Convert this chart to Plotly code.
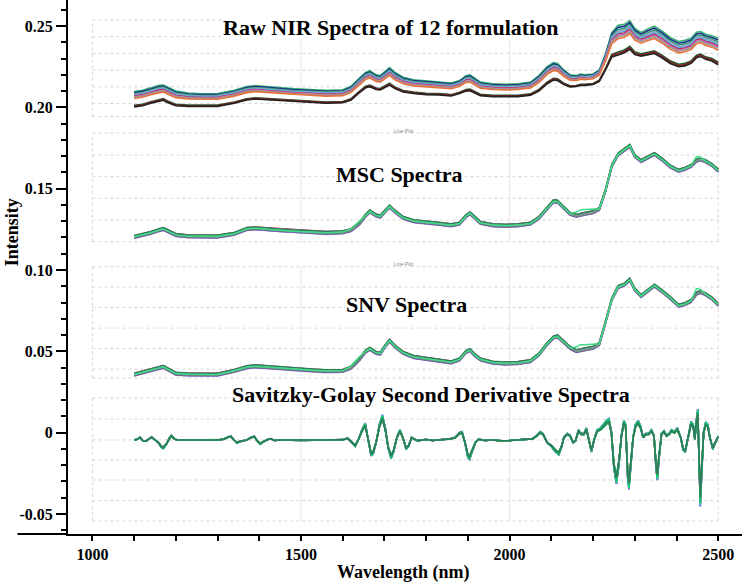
import plotly.graph_objects as go

# ---------------- data ----------------
wavelength = [1100, 1120, 1140, 1160, 1170, 1180, 1200, 1230, 1260, 1300, 1340, 1370, 1390, 1410,
              1440, 1480, 1520, 1560, 1600, 1620, 1640, 1655, 1665, 1680, 1690, 1700, 1712, 1725,
              1745, 1770, 1800, 1830, 1860, 1880, 1895, 1905, 1915, 1930, 1960, 1990, 2020, 2050,
              2070, 2090, 2105, 2115, 2130, 2145, 2160, 2170, 2180, 2200, 2215, 2230, 2245, 2260,
              2275, 2288, 2300, 2315, 2330, 2347, 2365, 2385, 2405, 2420, 2435, 2448, 2458, 2470,
              2485, 2500]

raw_upper = [0.2097, 0.2105, 0.2120, 0.2135, 0.2137, 0.2125, 0.2100, 0.2088, 0.2084, 0.2085, 0.2105,
             0.2128, 0.2134, 0.2130, 0.2122, 0.2115, 0.2110, 0.2105, 0.2108, 0.2130, 0.2180, 0.2215,
             0.2225, 0.2200, 0.2195, 0.2220, 0.2245, 0.2215, 0.2185, 0.2170, 0.2163, 0.2158, 0.2150,
             0.2165, 0.2195, 0.2200, 0.2180, 0.2155, 0.2145, 0.2142, 0.2145, 0.2155, 0.2195, 0.2250,
             0.2275, 0.2270, 0.2230, 0.2200, 0.2195, 0.2205, 0.2200, 0.2205, 0.2230, 0.2330, 0.2460,
             0.2505, 0.2510, 0.2533, 0.2485, 0.2460, 0.2480, 0.2499, 0.2470, 0.2430, 0.2405, 0.2412,
             0.2425, 0.2462, 0.2466, 0.2450, 0.2440, 0.2425]

raw_lower = [0.2003, 0.2010, 0.2025, 0.2040, 0.2044, 0.2030, 0.2010, 0.2006, 0.2005, 0.2006, 0.2025,
             0.2045, 0.2051, 0.2048, 0.2040, 0.2035, 0.2030, 0.2025, 0.2028, 0.2045, 0.2090, 0.2120,
             0.2127, 0.2110, 0.2107, 0.2120, 0.2137, 0.2115, 0.2095, 0.2085, 0.2078, 0.2076, 0.2070,
             0.2085, 0.2100, 0.2102, 0.2090, 0.2072, 0.2066, 0.2064, 0.2066, 0.2075, 0.2100, 0.2145,
             0.2168, 0.2165, 0.2140, 0.2125, 0.2128, 0.2135, 0.2135, 0.2140, 0.2160, 0.2230, 0.2310,
             0.2322, 0.2335, 0.2357, 0.2325, 0.2315, 0.2322, 0.2331, 0.2305, 0.2270, 0.2250, 0.2255,
             0.2270, 0.2305, 0.2312, 0.2295, 0.2285, 0.2261]

msc_mean = [0.1203, 0.1215, 0.1228, 0.1245, 0.1252, 0.1240, 0.1215, 0.1207, 0.1205, 0.1206, 0.1222,
            0.1252, 0.1256, 0.1253, 0.1245, 0.1238, 0.1232, 0.1228, 0.1232, 0.1245, 0.1285, 0.1335,
            0.1360, 0.1335, 0.1328, 0.1355, 0.1390, 0.1360, 0.1320, 0.1300, 0.1290, 0.1284, 0.1275,
            0.1285, 0.1330, 0.1348, 0.1325, 0.1290, 0.1275, 0.1272, 0.1275, 0.1285, 0.1320, 0.1380,
            0.1422, 0.1420, 0.1380, 0.1345, 0.1333, 0.1340, 0.1345, 0.1355, 0.1375, 0.1490, 0.1640,
            0.1710, 0.1738, 0.1763, 0.1700, 0.1670, 0.1690, 0.1713, 0.1680, 0.1636, 0.1610, 0.1622,
            0.1640, 0.1672, 0.1680, 0.1668, 0.1645, 0.1611]

snv_mean = [0.0357, 0.0370, 0.0383, 0.0400, 0.0404, 0.0390, 0.0362, 0.0358, 0.0357, 0.0357, 0.0380,
            0.0402, 0.0408, 0.0404, 0.0396, 0.0390, 0.0384, 0.0378, 0.0380, 0.0400, 0.0450, 0.0500,
            0.0515, 0.0490, 0.0486, 0.0525, 0.0566, 0.0530, 0.0490, 0.0465, 0.0453, 0.0445, 0.0432,
            0.0450, 0.0495, 0.0507, 0.0480, 0.0450, 0.0430, 0.0425, 0.0428, 0.0440, 0.0480, 0.0545,
            0.0585, 0.0592, 0.0555, 0.0521, 0.0501, 0.0508, 0.0512, 0.0522, 0.0545, 0.0680, 0.0820,
            0.0895, 0.0910, 0.0940, 0.0880, 0.0840, 0.0870, 0.0904, 0.0870, 0.0828, 0.0780, 0.0790,
            0.0810, 0.0855, 0.0865, 0.0850, 0.0825, 0.0787]

# extra deviation of the bright-green formulation (F12) in the pre-processed spectra
f12_msc_extra = {1620: 0.0008, 1640: 0.0014, 2160: 0.0022, 2170: 0.0030, 2180: 0.0026,
                 2200: 0.0018, 2448: 0.0025, 2458: 0.0012}
f12_snv_extra = {1620: 0.0010, 1640: 0.0016, 2160: 0.0025, 2170: 0.0032, 2180: 0.0028,
                 2200: 0.0020, 2448: 0.0030, 2458: 0.0015}

sg_wavelength = [1100, 1108, 1114, 1121, 1128, 1135, 1142, 1150, 1158, 1165, 1170, 1177, 1184, 1189,
                 1195, 1202, 1250, 1300, 1315, 1325, 1332, 1340, 1346, 1352, 1360, 1370, 1380, 1388,
                 1395, 1402, 1410, 1420, 1428, 1436, 1450, 1500, 1560, 1600, 1612, 1622, 1630, 1638,
                 1646, 1654, 1661, 1668, 1673, 1680, 1688, 1695, 1702, 1709, 1716, 1722, 1730, 1737,
                 1744, 1752, 1758, 1765, 1772, 1780, 1790, 1800, 1815, 1830, 1845, 1858, 1870, 1880,
                 1886, 1893, 1900, 1904, 1910, 1918, 1926, 1940, 1960, 1980, 2000, 2020, 2040, 2055,
                 2065, 2073, 2080, 2090, 2100, 2110, 2118, 2125, 2130, 2138, 2145, 2152, 2158, 2165,
                 2172, 2178, 2184, 2190, 2196, 2203, 2210, 2218, 2225, 2232, 2238, 2244, 2250, 2256,
                 2262, 2268, 2274, 2278, 2283, 2286, 2290, 2296, 2302, 2308, 2314, 2320, 2326, 2333,
                 2340, 2346, 2351, 2354, 2358, 2364, 2370, 2376, 2382, 2388, 2395, 2402, 2410, 2416,
                 2421, 2428, 2435, 2440, 2444, 2447, 2451, 2454, 2457, 2461, 2465, 2470, 2475, 2480,
                 2487, 2493, 2500]

sg_mean = [-0.0045, -0.0040, -0.0030, -0.0050, -0.0052, -0.0038, -0.0028, -0.0045, -0.0060, -0.0085,
           -0.0092, -0.0070, -0.0035, -0.0020, -0.0035, -0.0045, -0.0045, -0.0045, -0.0040, -0.0028,
           -0.0025, -0.0050, -0.0062, -0.0055, -0.0050, -0.0045, -0.0030, -0.0025, -0.0050, -0.0068,
           -0.0055, -0.0042, -0.0038, -0.0048, -0.0045, -0.0047, -0.0045, -0.0043, -0.0035, -0.0060,
           -0.0080, -0.0040, 0.0010, 0.0045, -0.0040, -0.0130, -0.0120, -0.0060, 0.0040, 0.0090,
           0.0020, -0.0090, -0.0145, -0.0110, -0.0030, 0.0010, -0.0030, -0.0095, -0.0080, -0.0030,
           -0.0040, -0.0050, -0.0045, -0.0042, -0.0048, -0.0045, -0.0040, -0.0038, -0.0030, -0.0005,
           0.0000, -0.0060, -0.0140, -0.0150, -0.0110, -0.0060, -0.0040, -0.0048, -0.0045, -0.0050,
           -0.0048, -0.0045, -0.0042, -0.0038, -0.0020, 0.0000, -0.0010, -0.0060, -0.0080, -0.0110,
           -0.0125, -0.0080, -0.0030, -0.0010, -0.0020, -0.0060, -0.0050, 0.0010, -0.0010, -0.0010,
           0.0020, -0.0040, -0.0110, -0.0040, 0.0010, 0.0020, 0.0040, 0.0060, 0.0070, 0.0000,
           -0.0200, -0.0280, -0.0180, -0.0020, 0.0060, 0.0040, -0.0250, -0.0310, -0.0200, -0.0030,
           0.0040, 0.0060, 0.0030, -0.0030, -0.0010, -0.0010, 0.0010, -0.0020, -0.0200, -0.0260,
           -0.0150, -0.0010, 0.0005, -0.0020, -0.0010, 0.0010, 0.0000, 0.0020, -0.0030, -0.0100,
           -0.0110, -0.0020, 0.0055, 0.0040, -0.0040, 0.0050, 0.0120, -0.0150, -0.0400, -0.0200,
           0.0000, 0.0050, 0.0040, -0.0030, -0.0095, -0.0060, -0.0025]
sg_baseline = -0.0045

formulations = [f"F{i}" for i in range(1, 13)]
raw_position = [1.0, 0.93, 0.86, 0.80, 0.75, 0.70, 0.66, 0.62, 0.55, 0.10, 0.05, 0.0]
msc_offset = [0.0008, -0.0006, 0.0004, -0.0009, 0.0000, 0.0006, -0.0003, -0.0007, 0.0002, 0.0009, -0.0004, 0.0001]
snv_offset = [0.0008, -0.0006, 0.0004, -0.0009, 0.0000, 0.0006, -0.0003, -0.0007, 0.0002, 0.0009, -0.0004, 0.0001]
sg_gain = [1.15, 1.12, 1.13, 1.08, 1.04, 1.00, 0.97, 0.95, 1.10, 0.93, 0.96, 1.00]

raw_colors = ['#3cb371', '#1c2f8f', '#2e9e6e', '#9a9ad0', '#4fb6d6', '#c2185b',
              '#d070b0', '#999999', '#e8733a', '#1f5f3a', '#8b1a1a', '#222222']
proc_colors = ['#c2185b', '#3b2db5', '#4fb6d6', '#9a9ad0', '#999999', '#d070b0',
               '#555555', '#7b3fb0', '#b0b0b0', '#2e7d5b', '#6a8f80', '#3ddc84']
sg_colors = ['#3b2db5', '#b0206a', '#4fc3f7', '#7b3fb0', '#b0a0c0', '#888888',
             '#c0c0c0', '#2b2b2b', '#00e060', '#55cc88', '#20a060', '#2e7d5b']

y_tick_vals = [-0.05, 0, 0.05, 0.10, 0.15, 0.20, 0.25]
y_tick_text = ["-0.05", "0", "0.05", "0.10", "0.15", "0.20", "0.25"]
x_tick_vals = [1000, 1500, 2000, 2500]
x_tick_text = ["1000", "1500", "2000", "2500"]

panel_titles = ["Raw NIR Spectra of 12 formulation", "MSC Spectra", "SNV Spectra",
                "Savitzky-Golay Second Derivative Spectra"]

# ---------------- figure ----------------
fig = go.Figure()

for i, name in enumerate(formulations):
    p = raw_position[i]
    y = [lo + p * (hi - lo) for lo, hi in zip(raw_lower, raw_upper)]
    fig.add_trace(go.Scatter(x=wavelength, y=y, mode="lines", name=name,
                             line=dict(color=raw_colors[i], width=1.6), showlegend=False,
                             hoverinfo="skip"))
for i, name in enumerate(formulations):
    extra = f12_msc_extra if i == 11 else {}
    y = [v + msc_offset[i] + extra.get(w, 0.0) for w, v in zip(wavelength, msc_mean)]
    fig.add_trace(go.Scatter(x=wavelength, y=y, mode="lines", name=name,
                             line=dict(color=proc_colors[i], width=1.5), showlegend=False,
                             hoverinfo="skip"))
for i, name in enumerate(formulations):
    extra = f12_snv_extra if i == 11 else {}
    y = [v + snv_offset[i] + extra.get(w, 0.0) for w, v in zip(wavelength, snv_mean)]
    fig.add_trace(go.Scatter(x=wavelength, y=y, mode="lines", name=name,
                             line=dict(color=proc_colors[i], width=1.5), showlegend=False,
                             hoverinfo="skip"))
for i, name in enumerate(formulations):
    y = [sg_baseline + sg_gain[i] * (v - sg_baseline) for v in sg_mean]
    fig.add_trace(go.Scatter(x=sg_wavelength, y=y, mode="lines", name=name,
                             line=dict(color=sg_colors[i], width=1.6), showlegend=False,
                             hoverinfo="skip"))

# ---------------- panel frames (decoration) ----------------
panels = [
    dict(top=0.2537, bottom=0.1943, grid=[0.2434, 0.2332, 0.2229, 0.2126, 0.2024]),
    dict(top=0.1842, bottom=0.1174, grid=[0.1707, 0.1574, 0.1441, 0.1307]),
    dict(top=0.1020, bottom=0.0336, grid=[0.0895, 0.0770, 0.0643, 0.0517, 0.0391]),
    dict(top=0.0213, bottom=-0.0543, grid=[0.0084, -0.0045, -0.0168, -0.0291, -0.0418]),
]
shapes = []
grid_col = "#d6d6d6"
for pnl in panels:
    for gy in [pnl["top"]] + pnl["grid"] + [pnl["bottom"]]:
        shapes.append(dict(type="line", xref="x", yref="y", x0=1000, x1=2500, y0=gy, y1=gy,
                           line=dict(color=grid_col, width=1, dash="dot"), layer="below"))
    for gx in [1000, 2500]:
        shapes.append(dict(type="line", xref="x", yref="y", x0=gx, x1=gx,
                           y0=pnl["bottom"], y1=pnl["top"],
                           line=dict(color=grid_col, width=1, dash="dot"), layer="below"))
    for gx in [1500, 2000]:
        shapes.append(dict(type="line", xref="x", yref="y", x0=gx, x1=gx,
                           y0=pnl["bottom"], y1=pnl["top"],
                           line=dict(color="#e6e6e6", width=1), layer="below"))
shapes.append(dict(type="line", xref="paper", yref="paper", x0=-0.075, x1=0, y0=0, y1=0,
                   line=dict(color="black", width=2)))

serif = "Liberation Serif, Times New Roman, serif"
title_font = dict(family=serif, size=22, color="black", weight="bold")
title_pos = [(1715, 0.2488), (1735, 0.1586), (1754, 0.0785), (1811, 0.0232)]
annotations = []
for (tx, ty), txt in zip(title_pos, panel_titles):
    annotations.append(dict(x=tx, y=ty, xref="x", yref="y", text=txt, showarrow=False,
                            font=title_font, bgcolor="white", borderpad=0,
                            xanchor="center", yanchor="middle"))
for ly in [0.1854, 0.1037]:
    annotations.append(dict(x=1747, y=ly, xref="x", yref="y", text="Line Plot", showarrow=False,
                            font=dict(family="Liberation Sans, Arial", size=5, color="#888888")))
annotations.append(dict(x=-0.083, y=0.565, xref="paper", yref="paper", text="Intensity",
                        textangle=-90, showarrow=False, xanchor="center", yanchor="middle",
                        font=dict(family=serif, size=18, color="black", weight="bold")))
annotations.append(dict(x=0.4985, y=-0.073, xref="paper", yref="paper", text="Wavelength (nm)",
                        showarrow=False, xanchor="center", yanchor="middle",
                        font=dict(family=serif, size=18, color="black", weight="bold")))

tick_font = dict(family=serif, size=16, color="black", weight="bold")

fig.update_layout(
    width=742, height=584,
    margin=dict(l=68, r=0, t=0, b=50),
    paper_bgcolor="white", plot_bgcolor="white",
    shapes=shapes, annotations=annotations,
    xaxis=dict(range=[941.5, 2557], showline=True, linecolor="black", linewidth=2,
               ticks="outside", ticklen=5, tickwidth=2, tickcolor="black",
               tickvals=x_tick_vals, ticktext=x_tick_text, tickfont=tick_font,
               minor=dict(tick0=1000, dtick=100, ticks="outside", ticklen=5, tickwidth=2,
                          tickcolor="black"),
               showgrid=False, zeroline=False),
    yaxis=dict(range=[-0.0623, 0.266], showline=True, linecolor="black", linewidth=2,
               ticks="outside", ticklen=10, tickwidth=2, tickcolor="black",
               tickvals=y_tick_vals, ticktext=y_tick_text, tickfont=tick_font,
               minor=dict(tick0=0, dtick=0.01, ticks="outside", ticklen=5, tickwidth=2,
                          tickcolor="black"),
               showgrid=False, zeroline=False),
)

fig.write_html("out.html", config={"displayModeBar": False},
               post_script="document.body.style.margin='0';document.body.style.overflow='hidden';")
